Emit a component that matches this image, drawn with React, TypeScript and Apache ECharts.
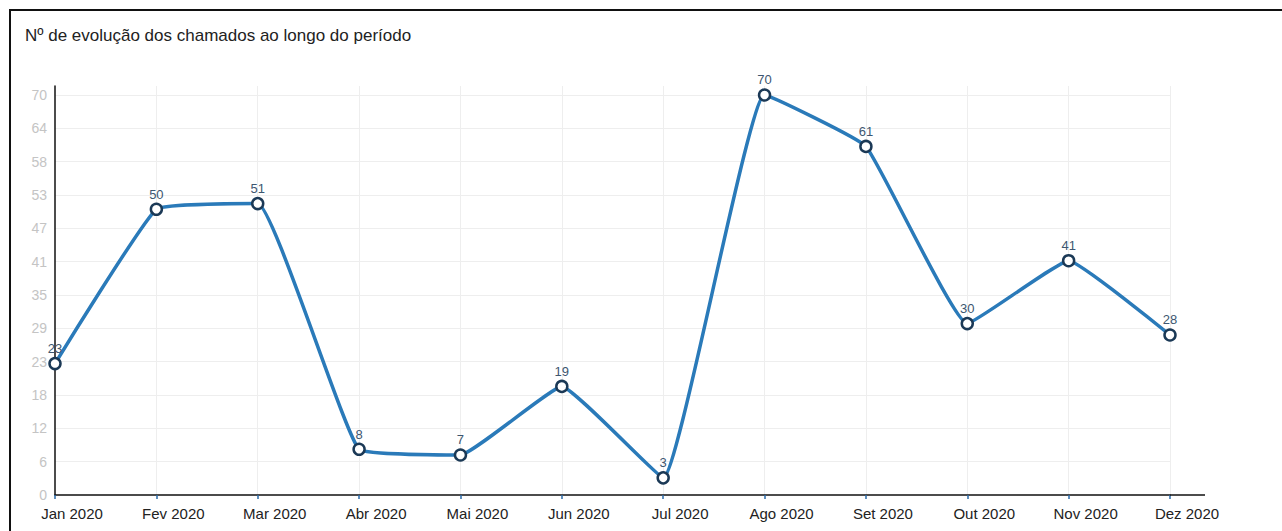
import React, { useEffect, useRef } from "react";
import * as echarts from "echarts";

const months = ["Jan 2020", "Fev 2020", "Mar 2020", "Abr 2020", "Mai 2020", "Jun 2020", "Jul 2020", "Ago 2020", "Set 2020", "Out 2020", "Nov 2020", "Dez 2020"];
const chamados = [23, 50, 51, 8, 7, 19, 3, 70, 61, 30, 41, 28];
const titleText = "Nº de evolução dos chamados ao longo do período";
const yTop = 70;
const ySteps = 12;

export default function App() {
  const ref = useRef<HTMLDivElement>(null);
  useEffect(() => {
    if (!ref.current) return;
    const chart = echarts.init(ref.current, null, { renderer: "svg" });
    const step = yTop / ySteps;
    chart.setOption({
      animation: false,
      textStyle: { fontFamily: "Liberation Sans, Arial, sans-serif" },
      title: {
        text: titleText,
        left: 20,
        top: 22,
        textStyle: { fontSize: 17, fontWeight: "normal", color: "#222" },
      },
      grid: { left: 55, right: 112, top: 86, bottom: 36, containLabel: false },
      xAxis: {
        type: "value",
        min: 0,
        max: months.length - 1,
        interval: 1,
        axisLine: { show: true, lineStyle: { color: "#111", width: 1.5 } },
        axisTick: { show: true, length: 4, lineStyle: { color: "#2a6aa8", width: 1.5 } },
        axisLabel: {
          formatter: (v: number) => (Number.isInteger(v) && months[v] ? months[v] : ""),
          color: "#222",
          fontSize: 15,
          margin: 11,
          padding: [0, 0, 0, 34],
          showMaxLabel: true,
          showMinLabel: true,
        },
        splitLine: { show: true, showMinLine: false, lineStyle: { color: "#eeeeee", width: 1 } },
      },
      yAxis: {
        type: "value",
        min: 0,
        max: 71.575,
        interval: step,
        axisLine: { show: true, lineStyle: { color: "#111", width: 1.5 } },
        axisTick: { show: false },
        axisLabel: {
          formatter: (v: number) => (v > yTop + 0.01 ? "" : String(Math.round(v))),
          color: "#c4c4c4",
          fontSize: 14,
          margin: 8,
        },
        splitLine: { show: true, showMinLine: false, showMaxLine: false, lineStyle: { color: "#eeeeee", width: 1 } },
      },
      series: [
        {
          type: "line",
          data: chamados.map((v, i) => [i, v]),
          smooth: 0.1,
          lineStyle: { color: "#2a7ab9", width: 3.5 },
          symbol: "circle",
          symbolSize: 11,
          itemStyle: { color: "#ffffff", borderColor: "#1b3956", borderWidth: 2.5 },
          label: {
            show: true,
            position: "top",
            distance: 2,
            color: "#3d5670",
            fontSize: 13,
          },
          z: 3,
        },
      ],
    });
    const end = chart.convertToPixel({ gridIndex: 0 }, [months.length - 1, 0]) as number[];
    chart.setOption({
      graphic: [
        {
          type: "rect",
          shape: { x: 10, y: 10, width: 1400, height: 700 },
          style: { fill: "none", stroke: "#111", lineWidth: 2 },
          silent: true,
          z: 0,
        },
        {
          type: "line",
          shape: { x1: end[0], y1: end[1], x2: end[0] + 35, y2: end[1] },
          style: { stroke: "#111", lineWidth: 1.5 },
          silent: true,
          z: 5,
        },
      ],
    });
    return () => chart.dispose();
  }, []);
  return (
    <div
      ref={ref}
      style={{ position: "absolute", left: 0, top: 0, width: 1282, height: 531, background: "#fff" }}
    />
  );
}
